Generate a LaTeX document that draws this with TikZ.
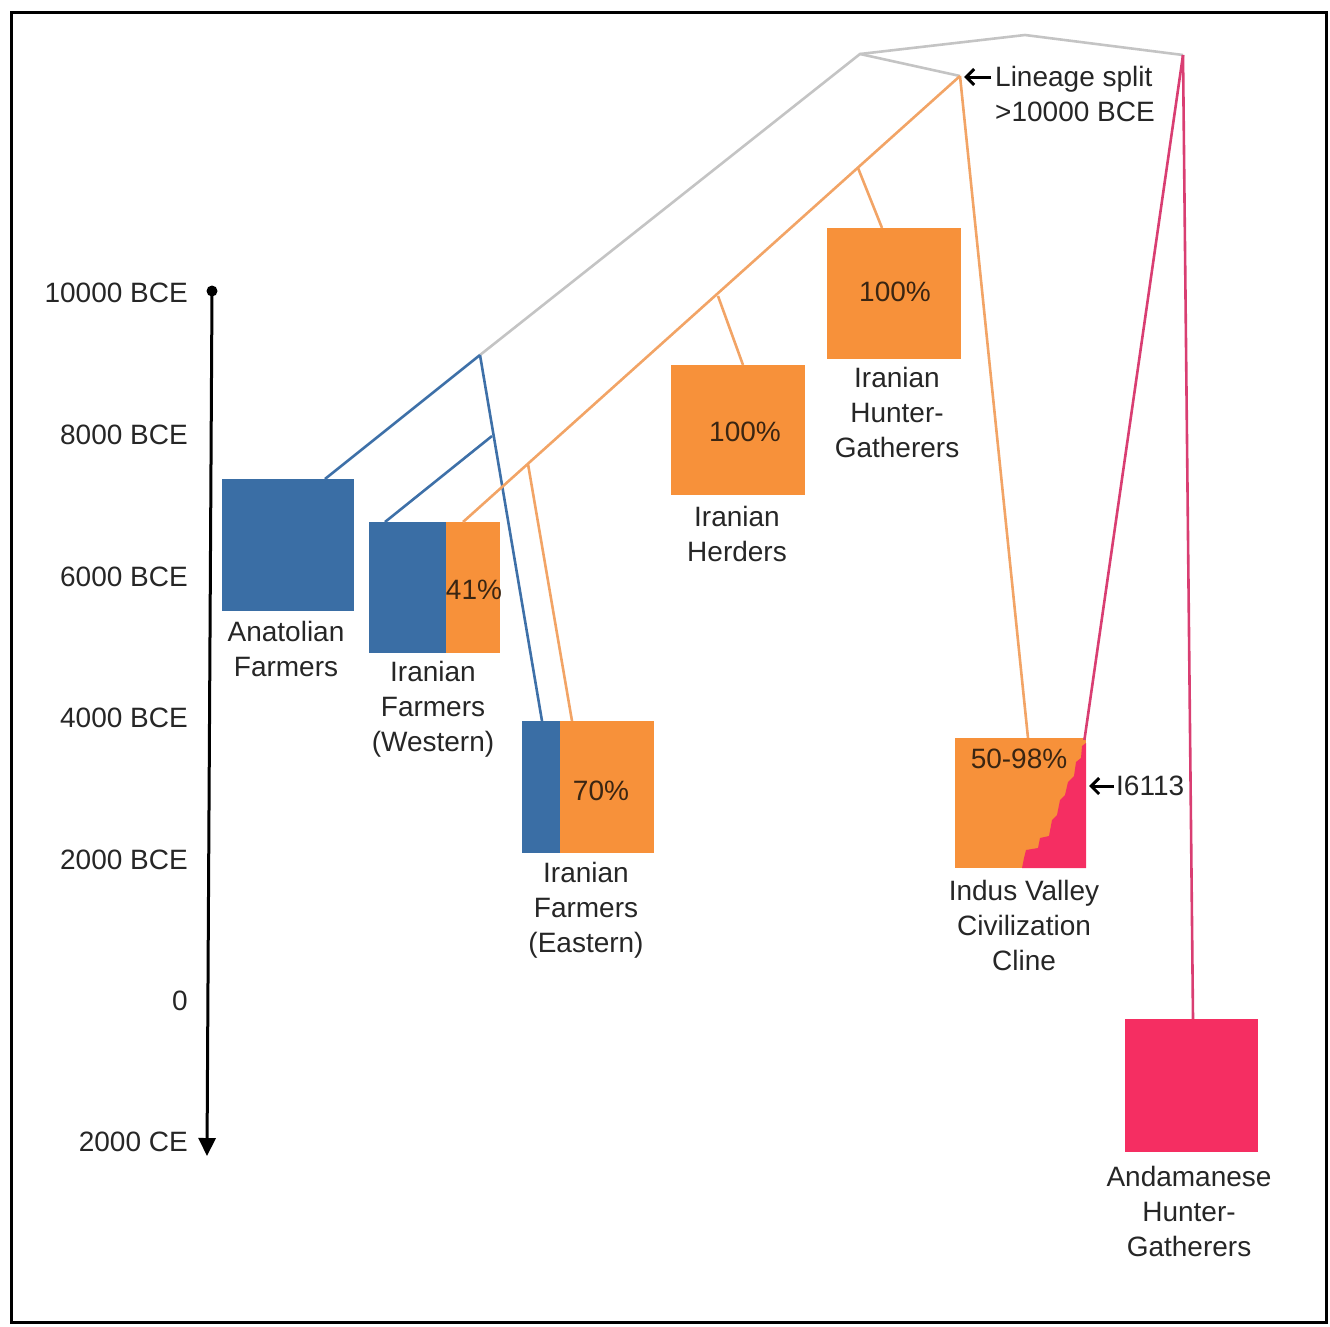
\documentclass[tikz,border=0pt]{standalone}
\usepackage{fontspec}
\setmainfont{Liberation Sans}
\usetikzlibrary{arrows.meta,calc}
\definecolor{cblue}{HTML}{3A6EA5}
\definecolor{corange}{HTML}{F7913A}
\definecolor{cpink}{HTML}{F52E62}
\definecolor{lblue}{HTML}{3E70A8}
\definecolor{lorange}{HTML}{F2A466}
\definecolor{lgray}{HTML}{C4C4C4}
\definecolor{lpink}{HTML}{D93E72}
\definecolor{txt}{HTML}{262626}
\definecolor{intxt}{HTML}{3A2512}
\begin{document}
\begin{tikzpicture}[x=1pt,y=-1pt,
  box/.style={draw=none,inner sep=0,anchor=north west},
  lbl/.style={font=\fontsize{28}{35}\selectfont,text=txt,align=center,inner sep=0,anchor=north},
  pct/.style={font=\fontsize{28}{35}\selectfont,text=intxt,inner sep=0},
  tick/.style={font=\fontsize{28}{35}\selectfont,text=txt,inner sep=0,anchor=east},
  conn/.style={line width=2.6},
  note/.style={line width=3,-{Straight Barb[length=8,width=16,line width=3]}}]
\useasboundingbox (0,0) rectangle (1330,1326);
\draw[line width=3] (11,12) rectangle (1326,1322);

% timeline
\fill (212,291) circle (5.5);
\draw[line width=3,-{Triangle[length=18,width=17]}] (212,291) -- (207,1156);
\node[tick] (t1) at (188,293) {10000 BCE};
\node[tick] (t2) at (188,435) {8000 BCE};
\node[tick] (t3) at (188,577) {6000 BCE};
\node[tick] (t4) at (188,718) {4000 BCE};
\node[tick] (t5) at (188,860) {2000 BCE};
\node[tick] (t6) at (188,1001) {0};
\node[tick] (t7) at (188,1142) {2000 CE};

% connectors' junctions
\coordinate (gA) at (480,355);
\coordinate (gB) at (860,54);
\coordinate (gC) at (1025,35);
\coordinate (gR) at (1183,55);
\coordinate (oR) at (960,76);
\coordinate (b1) at (492,436);
\coordinate (o1) at (858,168);
\coordinate (o2) at (718,296);
\coordinate (o3) at (528,464);

% boxes
\node[box,fill=cblue,minimum width=132,minimum height=132] (anat) at (222,479) {};
\node[box,fill=cblue,minimum width=77,minimum height=131] (wfb) at (369,522) {};
\node[box,fill=corange,minimum width=54,minimum height=131] (wfo) at (446,522) {};
\node[box,fill=cblue,minimum width=38,minimum height=132] (efb) at (522,721) {};
\node[box,fill=corange,minimum width=94,minimum height=132] (efo) at (560,721) {};
\node[box,fill=corange,minimum width=134,minimum height=130] (herd) at (671,365) {};
\node[box,fill=corange,minimum width=134,minimum height=131] (ihg) at (827,228) {};
\node[box,fill=corange,minimum width=131,minimum height=130] (ivc) at (955,738) {};
\node[box,fill=cpink,minimum width=133,minimum height=133] (andm) at (1125,1019) {};
% staircase in IVC box
\fill[cpink] (1086,743) -- (1082,746) -- (1081,758) -- (1076,762) -- (1074,776) -- (1068,782) -- (1065,795) -- (1060,800) -- (1057,815) -- (1052,820) -- (1049,836) -- (1040,838) -- (1038,848) -- (1026,850) -- (1024,858) -- (1022,868) -- (1086,868) -- cycle;

% attach points
\coordinate (anatT) at ($(anat.north west)+(103,0)$);
\coordinate (wfbT) at ($(wfb.north west)+(16,0)$);
\coordinate (wfoT) at ($(wfo.north west)+(17,0)$);
\coordinate (efbT) at ($(efb.north west)+(20,0)$);
\coordinate (efoT) at ($(efo.north west)+(12,0)$);
\coordinate (herdT) at ($(herd.north west)+(72,0)$);
\coordinate (ihgT) at ($(ihg.north west)+(55,0)$);
\coordinate (ivcT) at ($(ivc.north west)+(73,0)$);
\coordinate (ivcR) at ($(ivc.north east)+(-2,2)$);
\coordinate (andT) at ($(andm.north west)+(68,0)$);

\draw[conn,lgray] (gA) -- (gB) -- (gC) -- (gR);
\draw[conn,lgray] (gB) -- (oR);
\draw[conn,lblue] (gA) -- (anatT);
\draw[conn,lblue] (gA) -- (efbT);
\draw[conn,lblue] (b1) -- (wfbT);
\draw[conn,lorange] (oR) -- (wfoT);
\draw[conn,lorange] (oR) -- (ivcT);
\draw[conn,lorange] (o1) -- (ihgT);
\draw[conn,lorange] (o2) -- (herdT);
\draw[conn,lorange] (o3) -- (efoT);
\draw[conn,lpink] (gR) -- (ivcR);
\draw[conn,lpink] (gR) -- (andT);

% percentages
\node[pct] (p41) at (474,590) {41\%};
\node[pct] (p70) at (601,791) {70\%};
\node[pct] (p100a) at (745,432) {100\%};
\node[pct] (p100b) at (895,292) {100\%};
\node[pct] (p5098) at (1019,759) {50-98\%};

% labels
\node[lbl] (anatL) at (286,621) {Anatolian\\Farmers};
\node[lbl] (wfL) at (433,661) {Iranian\\Farmers\\(Western)};
\node[lbl] (efL) at (586,862) {Iranian\\Farmers\\(Eastern)};
\node[lbl] (herdL) at (737,506) {Iranian\\Herders};
\node[lbl] (ihgL) at (897,367) {Iranian\\Hunter-\\Gatherers};
\node[lbl] (ivcL) at (1024,880) {Indus Valley\\Civilization\\Cline};
\node[lbl] (andL) at (1189,1166) {Andamanese\\Hunter-\\Gatherers};

% notes
\coordinate (ls) at (991,77);
\coordinate (lsE) at (964,77);
\draw[note] (ls) -- (lsE);
\node[font=\fontsize{28}{35}\selectfont,text=txt,align=left,inner sep=0,anchor=north west] (lsT) at (995,66) {Lineage split\\>10000 BCE};
\coordinate (is) at (1114,786);
\coordinate (isE) at (1089,786);
\draw[note] (is) -- (isE);
\node[font=\fontsize{28}{35}\selectfont,text=txt,inner sep=0,anchor=west] (isT) at (1116,786) {I6113};
\end{tikzpicture}
\end{document}
